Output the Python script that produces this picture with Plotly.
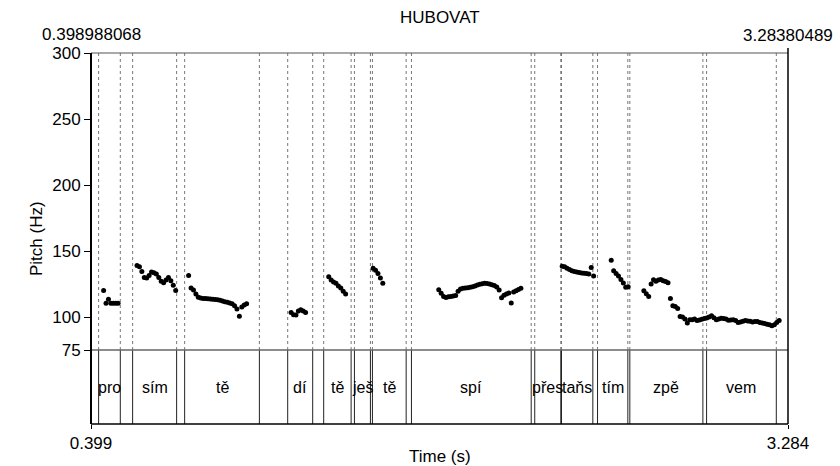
import plotly.graph_objects as go

# ---- axis extents ----
t_start = 0.398988068
t_end = 3.28380489
f_min, f_max = 75, 300
pitch_ticks = [75, 100, 150, 200, 250, 300]
time_ticks = [0.398988068, 3.28380489]
time_tick_text = ["0.399", "3.284"]

# ---- pitch contour (10 ms frames), one list per voiced stretch ----
frame_step = 0.01
pitch_pro = (0.4512, [120, 110.5, 113.5, 110.5, 110.5, 110.5, 110.5])
pitch_sim = (0.5895, [139, 138, 134.5, 130, 129.5, 131.5, 134, 133.5, 132.5,
                      130, 127, 126, 128, 130, 127.5, 124, 120])
pitch_te1 = (0.8031, [131.4, 122, 120.5, 117.5, 115, 114.3, 114, 114, 113.8,
                      113.6, 113.4, 113.2, 113, 112.6, 112.2, 111.6, 111.2,
                      110.6, 110, 108.5, 106, 100.5, 107.5, 109, 110])
pitch_di = (1.2272, [103.5, 101.7, 101.5, 104.5, 105.5, 104.5, 103.5])
pitch_te2 = (1.3829, [130.5, 128, 126.5, 125.5, 123.5, 122, 119.5, 117.5])
pitch_te3 = (1.5667, [137, 135.5, 133, 129.5, 125.5])
pitch_spi = (1.8383, [120.6, 118, 115.5, 114.8, 115.4, 115.6, 116, 116.3, 119.5,
                      121.2, 121.8, 122, 122.2, 122.6, 123, 123.4, 124.2, 124.8,
                      125.2, 125.5, 125.3, 125, 124.5, 123.8, 122.8, 120.5, 114.5,
                      116.5, 117.5, 118.2, 110.6, 119, 119.8, 120.8, 121.8])
pitch_tans = (2.3493, [138.5, 138, 137, 136, 135, 134.5, 134, 133.7, 133.4,
                       133.2, 133, 132.6, 137.5, 131])
pitch_tim = (2.5522, [143, 135, 133, 131, 128.5, 125.7, 122.5, 123])
pitch_zpe_vem = (2.6872, [119.8, 117.6, 115.6, 125, 128.2, 127, 128, 128.5, 127.5,
                          126.8, 126, 114, 108.5, 108, 106.5, 100.4, 100, 98.5,
                          95.5, 98, 98, 98.5, 97.3, 97.8, 98.3, 98.8, 99.2, 100,
                          101, 99.5, 98, 98.5, 99, 98.8, 98.4, 97.5, 97.8, 98,
                          97.3, 95.8, 96.3, 96.8, 97.3, 97, 96.7, 96.2, 96.5,
                          96.5, 95.9, 95.4, 95, 94.6, 94.2, 93.4, 94.2, 95.9, 97.3])

voiced = [pitch_pro, pitch_sim, pitch_te1, pitch_di, pitch_te2, pitch_te3,
          pitch_spi, pitch_tans, pitch_tim, pitch_zpe_vem]

# ---- syllable tier ----
tier_bounds = [0.4305, 0.5203, 0.5713, 0.7534, 0.7866, 1.0959, 1.2131, 1.3166,
               1.3621, 1.4756, 1.4893, 1.5555, 1.5638, 1.7034, 1.7253, 2.2209,
               2.2356, 2.3435, 2.3464, 2.4760, 2.4955, 2.6209, 2.6292, 2.9315,
               2.9468, 3.2354]
tier_labels = ["pro", "", "sím", "", "tě", "", "dí", "", "tě", "", "ješ", "",
               "tě", "", "spí", "", "přes", "", "taňs", "", "tím", "", "zpě", "",
               "vem"]

FONT = "Liberation Sans, Arial, sans-serif"
FS = 17
FS_TIER = 16
W, H = 840, 466
ML, MR, MT, MB = 91, 52, 53, 42
plot_h = H - MT - MB
split = 74 / plot_h  # pitch panel sits above the tier panel

times, freqs = [], []
for start, vals in voiced:
    for i, v in enumerate(vals):
        times.append(start + i * frame_step)
        freqs.append(v)

fig = go.Figure()
fig.add_trace(go.Scatter(
    x=times, y=freqs, mode="markers", xaxis="x", yaxis="y",
    marker=dict(color="black", size=5, line=dict(width=0)),
    hoverinfo="x+y", showlegend=False,
))

shapes = []
# interval boundaries: dotted over the pitch panel, solid inside the tier
for b in tier_bounds:
    shapes.append(dict(type="line", xref="x", yref="paper", x0=b, x1=b,
                       y0=split, y1=1, layer="below",
                       line=dict(color="#777777", width=1, dash="dot")))
    shapes.append(dict(type="line", xref="x", yref="paper", x0=b, x1=b,
                       y0=0, y1=split, line=dict(color="#222222", width=1)))
# frame
shapes += [
    dict(type="line", xref="paper", yref="paper", x0=0, x1=1, y0=1, y1=1,
         line=dict(color="#555555", width=1)),
    dict(type="line", xref="paper", yref="paper", x0=0, x1=1, y0=split, y1=split,
         line=dict(color="#666666", width=1.5)),
    dict(type="line", xref="paper", yref="paper", x0=0, x1=1, y0=0, y1=0,
         line=dict(color="black", width=1.5)),
    dict(type="line", xref="paper", yref="paper", x0=0, x1=0, y0=0, y1=1,
         line=dict(color="black", width=2)),
    dict(type="line", xref="paper", yref="paper", x0=1, x1=1, y0=0, y1=1 + 5 / plot_h,
         line=dict(color="black", width=1.5)),
]

annotations = [
    dict(text="HUBOVAT", xref="paper", yref="paper", x=0.5, y=1, yanchor="middle",
         yshift=36, showarrow=False, font=dict(family=FONT, size=FS, color="black")),
    dict(text="0.398988068", xref="paper", yref="paper", x=0, y=1, yanchor="middle",
         xanchor="center", yshift=19, showarrow=False,
         font=dict(family=FONT, size=FS, color="black")),
    dict(text="3.28380489", xref="paper", yref="paper", x=1, y=1, yanchor="middle",
         xanchor="center", yshift=18, showarrow=False,
         font=dict(family=FONT, size=FS, color="black")),
    dict(text="Time (s)", xref="paper", yref="paper", x=0.5, y=0, yanchor="middle",
         yshift=-32, showarrow=False, font=dict(family=FONT, size=FS, color="black")),
    dict(text="Pitch (Hz)", xref="paper", yref="paper", x=0, y=0.5, xshift=-66,
         textangle=-90, showarrow=False,
         font=dict(family=FONT, size=FS, color="black")),
]
for i, lab in enumerate(tier_labels):
    if lab:
        annotations.append(dict(
            text=lab, xref="x", yref="paper",
            x=(tier_bounds[i] + tier_bounds[i + 1]) / 2, y=split / 2,
            yanchor="middle", showarrow=False,
            font=dict(family=FONT, size=FS_TIER, color="black")))

fig.update_layout(
    width=W, height=H,
    margin=dict(l=ML, r=MR, t=MT, b=MB),
    paper_bgcolor="white", plot_bgcolor="white",
    font=dict(family=FONT, size=FS, color="black"),
    xaxis=dict(range=[t_start, t_end], domain=[0, 1], anchor="free", position=0,
               showgrid=False, zeroline=False, showline=False,
               tickmode="array", tickvals=time_ticks, ticktext=time_tick_text,
               ticks="outside", ticklen=4, tickcolor="black", tickwidth=1),
    yaxis=dict(range=[f_min, f_max], domain=[split, 1], anchor="x",
               showgrid=False, zeroline=False, showline=False,
               tickmode="array", tickvals=pitch_ticks,
               ticks="outside", ticklen=6, tickcolor="black", tickwidth=1,
               ticklabelstandoff=0),
    yaxis2=dict(range=[0, 1], domain=[0, split], anchor="x", visible=False),
    shapes=shapes, annotations=annotations,
)

fig.write_html("out.html")
